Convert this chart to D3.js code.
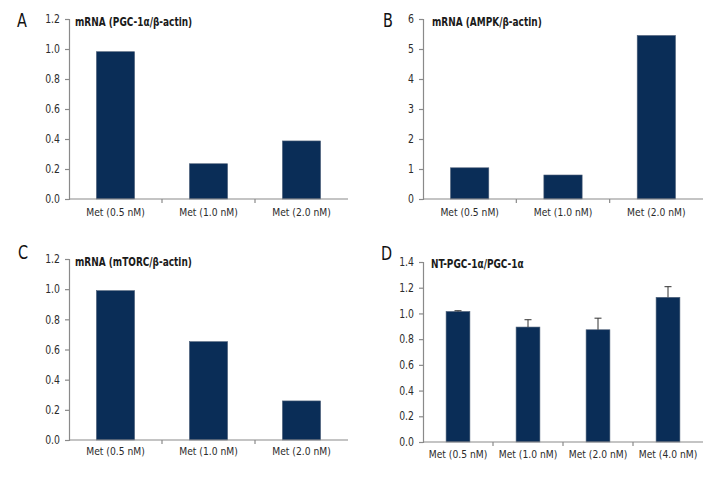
<!DOCTYPE html>
<html>
<head>
<meta charset="utf-8">
<script src="https://cdn.jsdelivr.net/npm/d3@7"></script>
<style>
html,body{margin:0;padding:0;background:#fff;}
svg{display:block;}
text{font-family:"DejaVu Sans Condensed","Liberation Sans Narrow",sans-serif;}
</style>
</head>
<body>
<svg id="chart" width="720" height="480"></svg>
<script>
const catsABC = ["Met (0.5 nM)", "Met (1.0 nM)", "Met (2.0 nM)"];
const catsD = ["Met (0.5 nM)", "Met (1.0 nM)", "Met (2.0 nM)", "Met (4.0 nM)"];
const valuesA = [0.982, 0.235, 0.387];
const valuesB = [1.04, 0.80, 5.45];
const valuesC = [0.99, 0.652, 0.259];
const valuesD = [1.015, 0.894, 0.873, 1.125];
const errorsD = [0.006, 0.057, 0.090, 0.083];
const ticksA = [0, 0.2, 0.4, 0.6, 0.8, 1.0, 1.2];
const ticksB = [0, 1, 2, 3, 4, 5, 6];
const ticksC = [0, 0.2, 0.4, 0.6, 0.8, 1.0, 1.2];
const ticksD = [0, 0.2, 0.4, 0.6, 0.8, 1.0, 1.2, 1.4];
const titles = ["mRNA (PGC-1α/β-actin)", "mRNA (AMPK/β-actin)", "mRNA (mTORC/β-actin)", "NT-PGC-1α/PGC-1α"];
const letters = ["A", "B", "C", "D"];

const svg = d3.select("#chart");
const BAR = "#0a2d57";
const AXIS = "#8a8a8a";
const TEXT = "#2b2b2b";

function ctext(parent, x, y, str, size, sx, anchor, weight, fill) {
  return parent.append("text")
    .attr("transform", `translate(${x},${y}) scale(${sx},1)`)
    .attr("text-anchor", anchor || "start")
    .attr("font-size", size)
    .attr("font-weight", weight || "normal")
    .attr("fill", fill || TEXT)
    .text(str);
}

const panels = [
  {letter: letters[0], title: titles[0], cats: catsABC, vals: valuesA, errs: null, ticks: ticksA, fmt: d3.format(".1f"),
   ax: 69, top: 19, bottom: 199, right: 348, pad: 0.59, lx: 17, ly: 27, tx: 75, ty: 26, xly: 216},
  {letter: letters[1], title: titles[1], cats: catsABC, vals: valuesB, errs: null, ticks: ticksB, fmt: d3.format("d"),
   ax: 423, top: 19, bottom: 199, right: 703, pad: 0.59, lx: 383, ly: 27, tx: 432, ty: 26, xly: 216},
  {letter: letters[2], title: titles[2], cats: catsABC, vals: valuesC, errs: null, ticks: ticksC, fmt: d3.format(".1f"),
   ax: 69, top: 259, bottom: 440, right: 348, pad: 0.59, lx: 18, ly: 259, tx: 75, ty: 266, xly: 455},
  {letter: letters[3], title: titles[3], cats: catsD, vals: valuesD, errs: errorsD, ticks: ticksD, fmt: d3.format(".1f"),
   ax: 423, top: 262, bottom: 442, right: 703, pad: 0.66, lx: 381, ly: 260, tx: 431, ty: 268, xly: 458}
];

panels.forEach(p => {
  const g = svg.append("g");
  const maxT = p.ticks[p.ticks.length - 1];
  const y = d3.scaleLinear().domain([0, maxT]).range([p.bottom, p.top]);
  const x = d3.scaleBand().domain(p.cats).range([p.ax, p.right])
    .paddingInner(p.pad).paddingOuter(p.pad / 2);

  // panel letter
  ctext(g, p.lx, p.ly, p.letter, 20, 0.8, "start", "normal", "#111");

  // bars
  g.selectAll("rect.bar").data(p.vals).join("rect")
    .attr("class", "bar")
    .attr("x", (d, i) => x(p.cats[i]))
    .attr("width", x.bandwidth())
    .attr("y", d => y(d))
    .attr("height", d => y(0) - y(d))
    .attr("fill", BAR)
    .attr("stroke", "#4d5f78").attr("stroke-width", 0.6);

  // error bars (upward only)
  if (p.errs) {
    const eg = g.append("g");
    p.vals.forEach((v, i) => {
      const cx = x(p.cats[i]) + x.bandwidth() / 2;
      eg.append("line").attr("x1", cx).attr("x2", cx)
        .attr("y1", y(v)).attr("y2", y(v + p.errs[i]))
        .attr("stroke", "#333").attr("stroke-width", 1);
      eg.append("line").attr("x1", cx - 3.5).attr("x2", cx + 3.5)
        .attr("y1", y(v + p.errs[i])).attr("y2", y(v + p.errs[i]))
        .attr("stroke", "#333").attr("stroke-width", 1);
    });
  }

  // y axis
  const sxT = 0.9;
  const ya = g.append("g").attr("transform", `translate(${p.ax},0)`)
    .call(d3.axisLeft(y).tickValues(p.ticks).tickFormat(p.fmt).tickSize(4).tickPadding(5));
  ya.select(".domain").attr("stroke", AXIS).attr("stroke-width", 1.2);
  ya.selectAll(".tick line").attr("stroke", AXIS).attr("stroke-width", 1.2);
  ya.selectAll(".tick text").attr("fill", TEXT).attr("font-size", 11.5)
    .attr("font-family", '"DejaVu Sans Condensed",sans-serif')
    .attr("x", -9 / sxT)
    .attr("transform", `scale(${sxT},1)`);

  // x axis line
  g.append("line").attr("x1", p.ax).attr("x2", p.right)
    .attr("y1", y(0)).attr("y2", y(0))
    .attr("stroke", AXIS).attr("stroke-width", 1.2);
  // inner boundary ticks
  const bounds = p.cats.slice(1).map((c, i) => p.ax + x.step() * (i + 1));
  g.selectAll("line.xt").data(bounds).join("line").attr("class", "xt")
    .attr("x1", d => d).attr("x2", d => d)
    .attr("y1", y(0)).attr("y2", y(0) + 4)
    .attr("stroke", AXIS).attr("stroke-width", 1.2);
  // category labels
  p.cats.forEach(c => {
    ctext(g, x(c) + x.bandwidth() / 2, p.xly, c, 11, 0.93, "middle");
  });

  // title
  ctext(g, p.tx, p.ty, p.title, 12, 0.83, "start", "bold", "#1a1a1a");
});
</script>
</body>
</html>
